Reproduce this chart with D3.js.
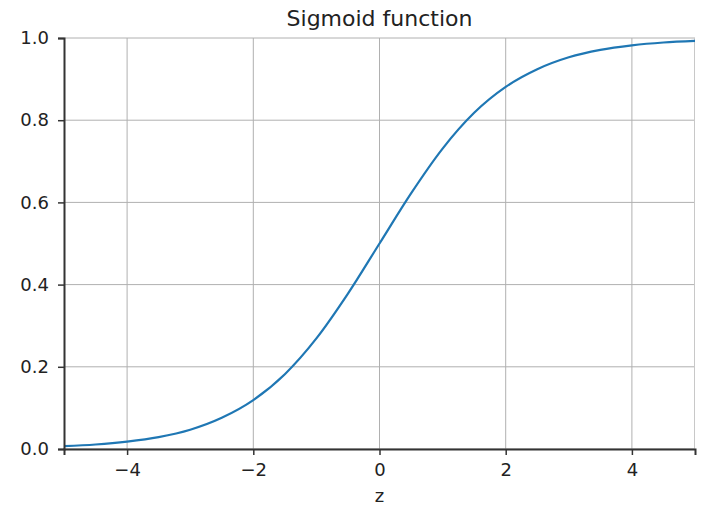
<!DOCTYPE html>
<html>
<head>
<meta charset="utf-8">
<script src="https://cdn.jsdelivr.net/npm/d3@7"></script>
<style>
  body { margin: 0; background: #fff; }
  svg { display: block; font-family: "DejaVu Sans", sans-serif; }
</style>
</head>
<body>
<svg id="chart" width="702" height="505"></svg>
<script>
// values
const zValues = [-5, -4.5, -4, -3.5, -3, -2.5, -2, -1.5, -1, -0.5, 0, 0.5, 1, 1.5, 2, 2.5, 3, 3.5, 4, 4.5, 5];
const sigValues = [0.007, 0.011, 0.018, 0.029, 0.047, 0.076, 0.119, 0.182, 0.269, 0.378, 0.5,
                   0.622, 0.731, 0.818, 0.881, 0.924, 0.953, 0.971, 0.982, 0.989, 0.993];
const xTicks = [-4, -2, 0, 2, 4];
const yTicks = [0.0, 0.2, 0.4, 0.6, 0.8, 1.0];

const margin = {top: 38, right: 7, bottom: 56, left: 64};
const width = 702, height = 505;

const svg = d3.select("#chart");

const x = d3.scaleLinear().domain([-5, 5]).range([margin.left, width - margin.right]);
const y = d3.scaleLinear().domain([0, 1]).range([height - margin.bottom, margin.top]);

// grid
svg.append("g")
  .attr("stroke", "#b0b0b0")
  .attr("stroke-width", 1)
  .selectAll("line")
  .data(xTicks)
  .enter().append("line")
    .attr("x1", d => x(d)).attr("x2", d => x(d))
    .attr("y1", y(0)).attr("y2", y(1));

svg.append("g")
  .attr("stroke", "#b0b0b0")
  .attr("stroke-width", 1)
  .selectAll("line")
  .data(yTicks)
  .enter().append("line")
    .attr("x1", x(-5)).attr("x2", x(5))
    .attr("y1", d => y(d)).attr("y2", d => y(d));

// right edge, faint
svg.append("line")
  .attr("x1", x(5) - 0.5).attr("x2", x(5) - 0.5)
  .attr("y1", y(0)).attr("y2", y(1))
  .attr("stroke", "#c8c8c8");

// curve
const pts = zValues.map((z, i) => [z, sigValues[i]]);
svg.append("path")
  .datum(pts)
  .attr("fill", "none")
  .attr("stroke", "#1f77b4")
  .attr("stroke-width", 2.2)
  .attr("d", d3.line().x(d => x(d[0])).y(d => y(d[1])).curve(d3.curveMonotoneX));

// axes
const xAxis = svg.append("g")
  .attr("transform", `translate(0,${y(0)})`)
  .call(d3.axisBottom(x).tickValues(xTicks).tickSize(6).tickPadding(8).tickFormat(d3.format("d")));
const yAxis = svg.append("g")
  .attr("transform", `translate(${x(-5)},0)`)
  .call(d3.axisLeft(y).tickValues(yTicks).tickSize(6).tickPadding(9).tickFormat(d3.format(".1f")));

[xAxis, yAxis].forEach(g => {
  g.select(".domain").attr("stroke", "#333").attr("stroke-width", 2);
  g.selectAll(".tick line").attr("stroke", "#333").attr("stroke-width", 1.5);
  g.selectAll(".tick text").attr("font-size", 18).attr("fill", "#222")
    .attr("font-family", "DejaVu Sans, sans-serif");
});

// title and label
svg.append("text")
  .attr("x", (x(-5) + x(5)) / 2)
  .attr("y", 26)
  .attr("text-anchor", "middle")
  .attr("font-size", 22)
  .attr("fill", "#222")
  .text("Sigmoid function");

svg.append("text")
  .attr("x", (x(-5) + x(5)) / 2)
  .attr("y", 502)
  .attr("text-anchor", "middle")
  .attr("font-size", 18)
  .attr("fill", "#222")
  .text("z");
</script>
</body>
</html>
